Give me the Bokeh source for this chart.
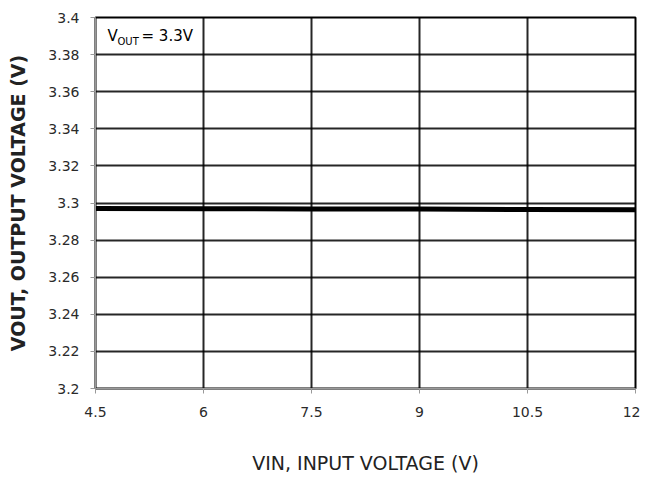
from bokeh.plotting import figure
from bokeh.models import Range1d, FixedTicker, Label
from bokeh.embed import file_html
from bokeh.resources import INLINE

vin = [4.5, 6, 7.5, 9, 10.5, 12]
vout = [3.2970, 3.2969, 3.2968, 3.2967, 3.2965, 3.2963]
x_ticks = [4.5, 6, 7.5, 9, 10.5, 12]
x_labels = ["4.5", "6", "7.5", "9", "10.5", "12"]
y_ticks = [3.2, 3.22, 3.24, 3.26, 3.28, 3.3, 3.32, 3.34, 3.36, 3.38, 3.4]
y_labels = ["3.2", "3.22", "3.24", "3.26", "3.28", "3.3", "3.32", "3.34", "3.36", "3.38", "3.4"]

FONT = "DejaVu Sans"

p = figure(width=640, height=477, output_backend="svg", toolbar_location=None,
           x_range=Range1d(4.5, 12), y_range=Range1d(3.2, 3.4),
           min_border_left=95, min_border_right=5, min_border_top=17, min_border_bottom=89)
p.outline_line_color = "black"
p.outline_line_width = 2
p.background_fill_color = "white"

for ax, ticks, labels in ((p.xaxis[0], x_ticks, x_labels), (p.yaxis[0], y_ticks, y_labels)):
    ax.ticker = FixedTicker(ticks=ticks)
    ax.major_label_overrides = {t: l for t, l in zip(ticks, labels)}
    ax.minor_tick_line_color = None
    ax.major_tick_line_color = "#999999"
    ax.major_tick_out = 5
    ax.major_tick_in = 0
    ax.axis_line_color = "#999999"
    ax.major_label_text_font = FONT
    ax.major_label_text_font_size = "14px"
    ax.major_label_text_color = "#2a2a2a"
    ax.axis_label_text_font = FONT
    ax.axis_label_text_color = "#222222"

p.xaxis.axis_label = "VIN, INPUT VOLTAGE (V)"
p.yaxis.axis_label = "VOUT, OUTPUT VOLTAGE (V)"
p.xaxis.axis_label_text_font_size = "19px"
p.xaxis.axis_label_text_font_style = "normal"
p.yaxis.axis_label_text_font_size = "19px"
p.yaxis.axis_label_text_font_style = "bold"
p.xaxis.major_label_standoff = 13
p.xaxis.axis_label_standoff = 32
p.yaxis.major_label_standoff = 11
p.yaxis.axis_label_standoff = 16

p.xgrid.ticker = FixedTicker(ticks=x_ticks)
p.ygrid.ticker = FixedTicker(ticks=y_ticks)
for g in (p.xgrid[0], p.ygrid[0]):
    g.grid_line_color = "black"
    g.grid_line_width = 2
    g.grid_line_alpha = 0.85

p.line(vin, vout, line_color="black", line_width=5)

p.add_layout(Label(x=12, y=344, x_units="screen", y_units="screen", text="V",
                   text_font=FONT, text_font_size="15px", text_color="black"))
p.add_layout(Label(x=22, y=342, x_units="screen", y_units="screen", text="OUT",
                   text_font=FONT, text_font_size="10px", text_color="black"))
p.add_layout(Label(x=46, y=344, x_units="screen", y_units="screen", text="= 3.3V",
                   text_font=FONT, text_font_size="15px", text_color="black"))

open("out.html", "w").write(file_html(p, INLINE))
